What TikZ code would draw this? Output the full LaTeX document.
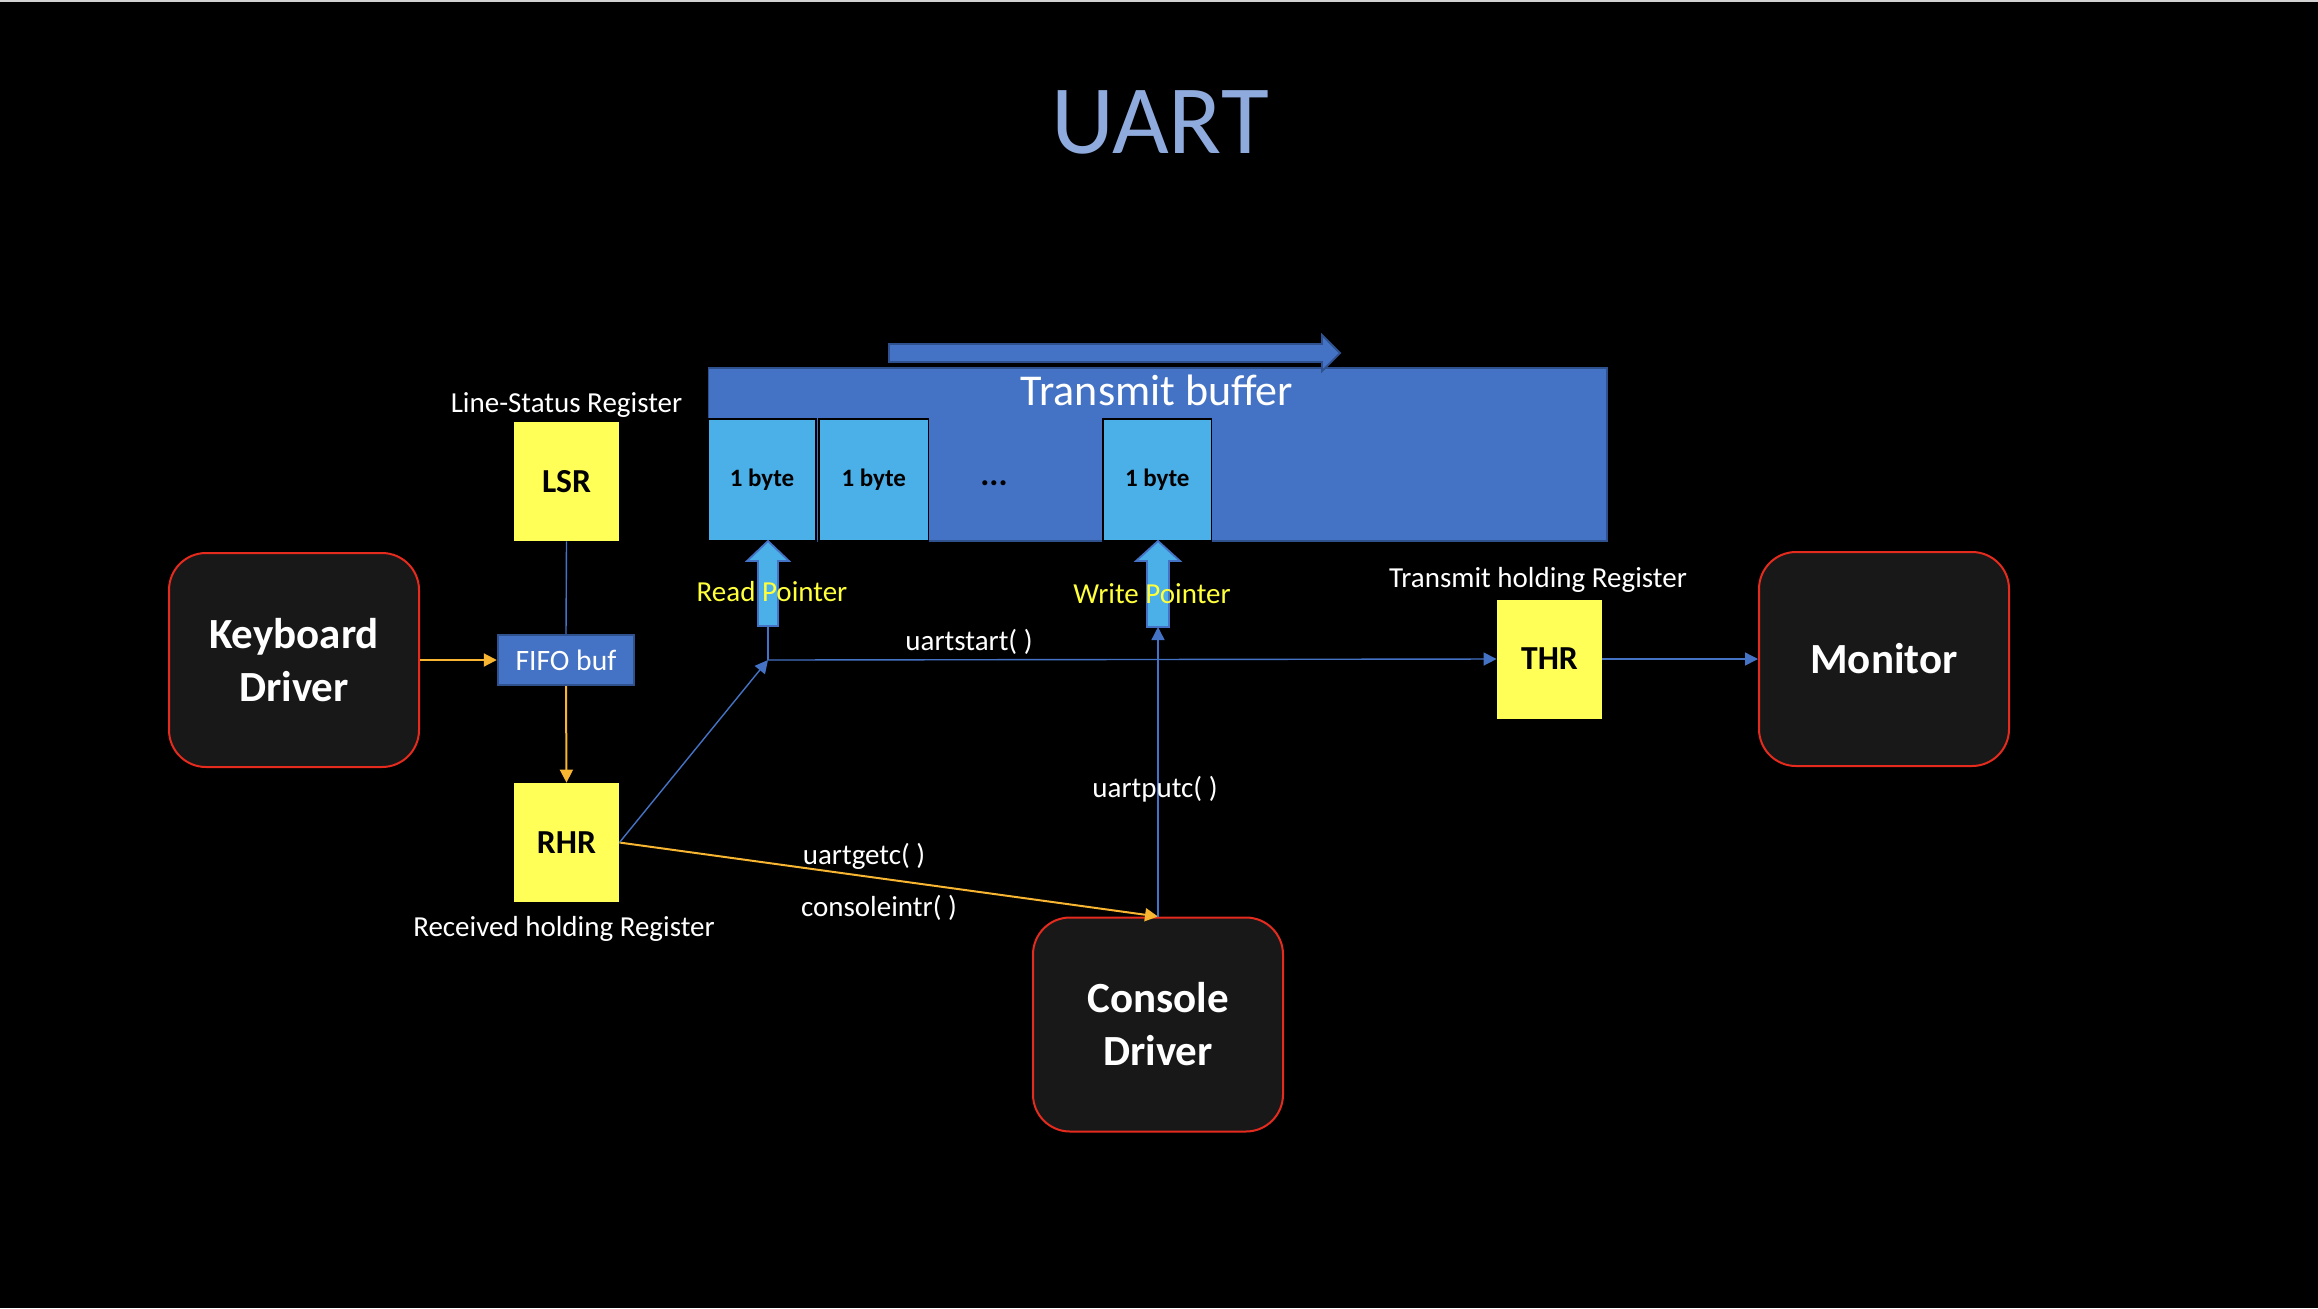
\documentclass[tikz,border=0pt]{standalone}
\usepackage{fontspec}
\setmainfont{Carlito}
\usetikzlibrary{arrows.meta}
\definecolor{accblue}{HTML}{4472C4}
\definecolor{darkblue}{HTML}{2F528F}
\definecolor{bytecol}{HTML}{4BAFE8}
\definecolor{regyellow}{HTML}{FFFF57}
\definecolor{lblyellow}{HTML}{FFFF3C}
\definecolor{orangeln}{HTML}{F7B531}
\definecolor{drvfill}{HTML}{181818}
\definecolor{drvred}{HTML}{E52A1E}
\definecolor{titlecol}{HTML}{8FAADC}
\tikzset{
  driver/.style={draw=drvred, line width=1pt, fill=drvfill, rounded corners=18.5pt,
    minimum width=125pt, minimum height=107pt, text=white, align=center,
    font=\fontsize{21.5}{26.5}\selectfont\bfseries, inner sep=0pt},
  reg/.style={fill=regyellow, minimum width=52.5pt, minimum height=59.5pt, inner sep=0pt,
    font=\fontsize{16.8}{20}\selectfont\bfseries, text=black},
  bytebox/.style={draw=black, line width=0.8pt, fill=bytecol, minimum height=61pt, inner sep=0pt,
    font=\fontsize{12.5}{15}\selectfont\bfseries, text=black},
  lbl/.style={text=white, font=\fontsize{14.5}{17}\selectfont, inner sep=0pt},
  ylbl/.style={text=lblyellow, font=\fontsize{14.5}{17}\selectfont, inner sep=0pt},
  blueline/.style={draw=accblue, line width=0.7pt},
  bluearrow/.style={draw=accblue, line width=0.7pt, -{Triangle[length=6.5pt,width=6.5pt]}},
  orangearrow/.style={draw=orangeln, line width=1pt, -{Triangle[length=6.5pt,width=6.5pt]}},
  blockarrow/.style={fill=bytecol, draw=accblue, line width=0.9pt},
}
\begin{document}
\begin{tikzpicture}[x=0.5pt, y=-0.5pt]
\fill[black] (0,0) rectangle (2318,1308);
\useasboundingbox (0,0) rectangle (2318,1308);
\fill[gray!35] (0,0) rectangle (2318,2);

% title
\node[text=titlecol, font=\fontsize{49}{56}\selectfont, inner sep=0pt] (title) at (1160,122) {UART};

% transmit buffer
\node[fill=accblue, draw=darkblue, line width=0.9pt, minimum width=449.25pt, minimum height=86.5pt, inner sep=0pt] (tbuf) at (1157.75,454.5) {};
\node[text=white, font=\fontsize{22}{26}\selectfont, inner sep=0pt] (tbuftext) at (1157,390) {Transmit buffer};
\node[bytebox, minimum width=53.75pt] (b1) at (762,480) {1 byte};
\node[bytebox, minimum width=54.75pt] (b2) at (873.75,480) {1 byte};
\node[bytebox, minimum width=54.25pt] (b3) at (1157.25,480) {1 byte};
\node[font=\fontsize{17}{20}\selectfont\bfseries, text=black, inner sep=0pt] (dots) at (994,483) {...};

% direction arrow above buffer
\filldraw[fill=accblue, draw=darkblue, line width=0.9pt]
  (889,344) -- (1322,344) -- (1322,335) -- (1340,353) -- (1322,371) -- (1322,362) -- (889,362) -- cycle;

% pointer block arrows
\filldraw[blockarrow] (768,541) -- (789,561) -- (778,561) -- (778,626) -- (758,626) -- (758,561) -- (747,561) -- cycle;
\filldraw[blockarrow] (1158,541) -- (1180,561) -- (1169,561) -- (1169,627) -- (1147,627) -- (1147,561) -- (1136,561) -- cycle;
\coordinate (rp) at (768,626);
\coordinate (wp) at (1158,627);
\coordinate (corner) at (768,660);

% registers
\node[reg] (lsr) at (566.5,481.5) {LSR};
\node[reg] (rhr) at (566.5,842.5) {RHR};
\node[reg] (thr) at (1549.5,659) {THR};
\node[fill=accblue, draw=darkblue, line width=1.2pt, minimum width=68pt, minimum height=25pt, inner sep=0pt,
  text=white, font=\fontsize{14.8}{17}\selectfont] (fifo) at (566,660) {FIFO buf};

% drivers
\node[driver] (kbd) at (294,660) {Keyboard\\Driver};
\node[driver] (mon) at (1884,659) {Monitor};
\node[driver] (con) at (1158,1024.5) {Console\\Driver};

% connectors
\draw[orangearrow] (kbd.east) -- (fifo.west);
\draw[blueline] (lsr.south) -- (fifo.north);
\draw[orangearrow] (fifo.south) -- (rhr.north);
\draw[orangearrow] (rhr.east) -- (con.north);
\draw[bluearrow] (rhr.east) -- (corner);
\draw[blueline] (corner) -- (rp);
\draw[bluearrow] (corner) -- (thr.west);
\draw[bluearrow] (con.north) -- (wp);
\draw[bluearrow] (thr.east) -- (mon.west);

% labels
\node[lbl] (lsrlbl) at (566.5,405) {Line-Status Register};
\node[lbl] (rhrlbl) at (564,929) {Received holding Register};
\node[lbl] (thrlbl) at (1538,580) {Transmit holding Register};
\node[lbl] (startlbl) at (969,642) {uartstart( )};
\node[lbl] (getclbl) at (864,856) {uartgetc( )};
\node[lbl] (intrlbl) at (879,908) {consoleintr( )};
\node[lbl] (putclbl) at (1155,789) {uartputc( )};
\node[ylbl] (rplbl) at (772,592) {Read Pointer};
\node[ylbl] (wplbl) at (1152,594) {Write Pointer};
\end{tikzpicture}
\end{document}
